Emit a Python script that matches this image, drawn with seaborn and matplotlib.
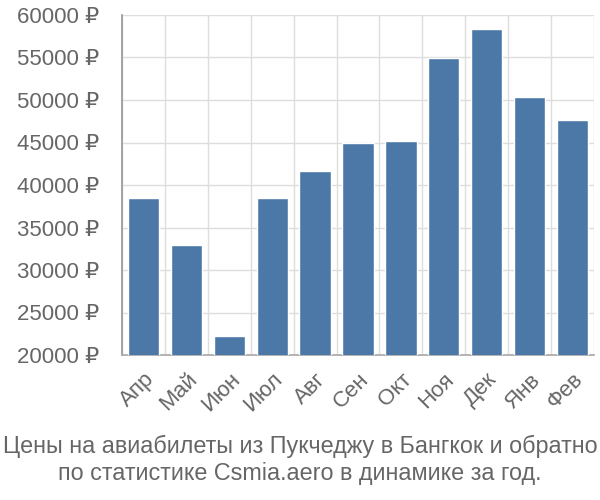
import matplotlib
matplotlib.use("Agg")
import matplotlib.pyplot as plt
import seaborn as sns
import pandas as pd

months = ["Апр", "Май", "Июн", "Июл", "Авг", "Сен", "Окт", "Ноя", "Дек", "Янв", "Фев"]
prices = [38500, 33000, 22200, 38500, 41600, 44900, 45200, 54900, 58300, 50400, 47700]
yticks = [20000, 25000, 30000, 35000, 40000, 45000, 50000, 55000, 60000]
title = "Цены на авиабилеты из Пукчеджу в Бангкок и обратно\nпо статистике Csmia.aero в динамике за год."

sns.set_theme(style="white")
plt.rcParams['font.family'] = ['Liberation Sans', 'DejaVu Sans']

df = pd.DataFrame({"month": months, "price": prices})

fig = plt.figure(figsize=(6, 5), dpi=100)
ax = fig.add_axes([122/600, 1-355/500, (594-122)/600, (355-15)/500])

sns.barplot(data=df, x="month", y="price", color="#4c78a8", width=0.73, ax=ax, zorder=3, saturation=1)

ax.set_ylim(20000, 60000)
ax.set_xlim(-0.5, len(months) - 0.5)
ax.set_yticks(yticks)
ax.set_yticklabels([f"{v} ₽" for v in yticks])
ax.set_xlabel("")
ax.set_ylabel("")

for b in [i + 0.5 for i in range(-1, len(months))]:
    ax.axvline(b, color="#dddddd", lw=1, zorder=0)
for v in yticks:
    ax.axhline(v, color="#dddddd", lw=1, zorder=0)

tick_len = 20 * 72 / 100  # 20 px in points
ax.tick_params(axis="y", length=tick_len, color="#dddddd", labelsize=16, labelcolor="#666666", pad=2)
ax.tick_params(axis="x", length=0, labelsize=16, labelcolor="#666666", pad=10)
ax.set_xticks([i + 0.5 for i in range(-1, len(months))], minor=True)
ax.tick_params(axis="x", which="minor", length=tick_len, color="#dddddd")
for lbl in ax.get_xticklabels():
    lbl.set_rotation(45)
    lbl.set_ha("right")
    lbl.set_va("top")
    lbl.set_rotation_mode("anchor")

for s in ["top", "right"]:
    ax.spines[s].set_visible(False)
ax.spines["left"].set_color("#999999")
ax.spines["bottom"].set_color("#aaaaaa")

fig.text(0.5, 1 - 460/500, title, ha="center", va="center", fontsize=16.8, color="#666666", linespacing=1.2)

fig.savefig("out.png", dpi=100)
